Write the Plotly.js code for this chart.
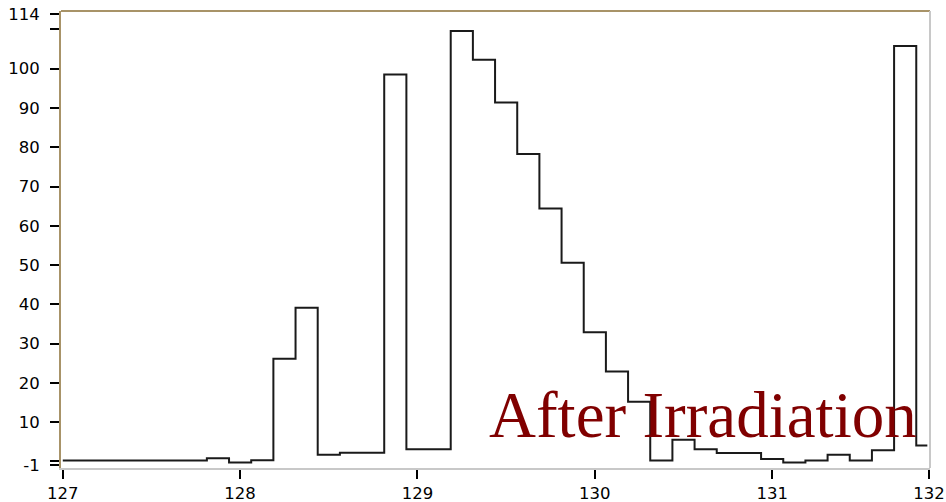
<!DOCTYPE html>
<html>
<head>
<meta charset="utf-8">
<script src="https://cdn.plot.ly/plotly-3.0.1.min.js"></script>
<style>
html,body{margin:0;padding:0;background:#fff;}
#chart{width:946px;height:502px;}
</style>
</head>
<body>
<div id="chart"></div>
<script>
// Bin centres (mass, amu) and counts
const binCenters = [127.0,127.125,127.25,127.375,127.5,127.625,127.75,127.875,
  128.0,128.125,128.25,128.375,128.5,128.625,128.75,128.875,
  129.0,129.125,129.25,129.375,129.5,129.625,129.75,129.875,
  130.0,130.125,130.25,130.375,130.5,130.625,130.75,130.875,
  131.0,131.125,131.25,131.375,131.5,131.625,131.75,131.875];
const counts = [0.2,0.2,0.2,0.2,0.2,0.2,0.2,0.8,
  -0.3,0.3,26.1,39.1,1.7,2.2,2.2,98.5,
  3.1,3.1,109.6,102.3,91.4,78.3,64.4,50.6,
  32.9,22.9,15.2,0.2,5.5,3.1,2.1,2.1,
  0.6,-0.3,0.2,1.7,0.2,2.8,105.8,4.0];

const xTickVals = [127,128,129,130,131,131.885];
const xTickText = ['127','128','129','130','131','132'];
const yTickVals = [-1,0,10,20,30,40,50,60,70,80,90,100,110,114];
const yTickText = ['-1','','10','20','30','40','50','60','70','80','90','100','','114'];
const label = 'After Irradiation';

const brown = '#a89368';
const grey = '#c8c8c8';
const tickFont = {family: 'DejaVu Sans, Verdana, sans-serif', size: 16.5, color: '#000'};

const trace = {
  x: binCenters, y: counts, type: 'scatter', mode: 'lines',
  line: {shape: 'hvh', color: '#1a1a1a', width: 2},
  hoverinfo: 'x+y'
};

const layout = {
  width: 946, height: 502,
  margin: {l: 61, r: 16, t: 11, b: 34, pad: 0},
  paper_bgcolor: '#ffffff', plot_bgcolor: '#ffffff',
  showlegend: false,
  font: tickFont,
  xaxis: {
    range: [126.99, 131.89], showgrid: false, zeroline: false,
    showline: true, linecolor: grey, linewidth: 2,
    ticks: 'outside', ticklen: 9, tickwidth: 2, tickcolor: '#000',
    tickmode: 'array', tickvals: xTickVals, ticktext: xTickText,
    ticklabelstandoff: 0,
    tickfont: tickFont
  },
  yaxis: {
    range: [-1.7, 114.7], showgrid: false, zeroline: false,
    showline: true, linecolor: brown, linewidth: 2,
    ticks: 'outside', ticklen: 9, tickwidth: 2, tickcolor: '#000',
    tickmode: 'array', tickvals: yTickVals, ticktext: yTickText,
    ticklabelstandoff: 7,
    tickfont: tickFont
  },
  shapes: [
    {type: 'line', xref: 'paper', yref: 'paper', x0: 0, x1: 1, y0: 1, y1: 1,
     line: {color: brown, width: 2}},
    {type: 'line', xref: 'paper', yref: 'paper', x0: 1, x1: 1, y0: 0, y1: 1,
     line: {color: grey, width: 2}}
  ],
  annotations: [{
    text: label, xref: 'paper', yref: 'paper', x: 0.49, y: 0.116,
    xanchor: 'left', yanchor: 'middle', showarrow: false,
    font: {family: 'Liberation Serif, Times New Roman, serif', size: 65, color: '#800000'}
  }]
};

Plotly.newPlot('chart', [trace], layout, {displayModeBar: false, staticPlot: true});
</script>
</body>
</html>
